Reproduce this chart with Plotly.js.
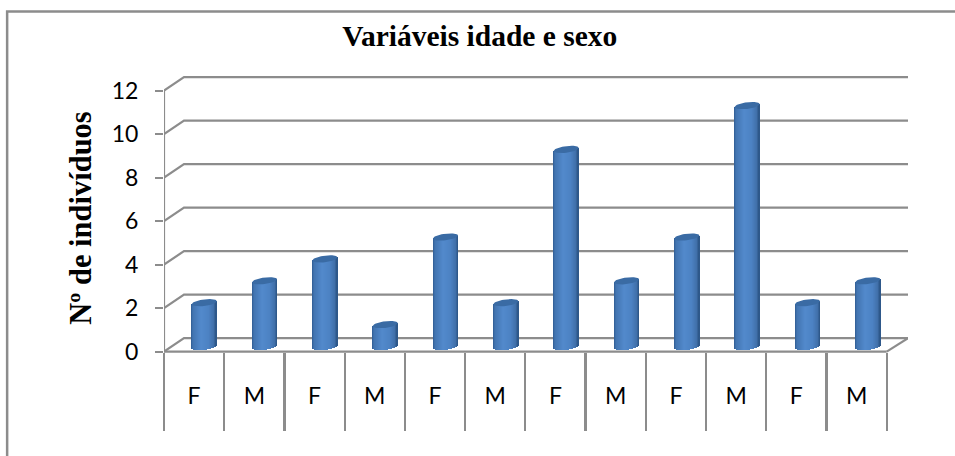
<!DOCTYPE html>
<html><head><meta charset="utf-8">
<script src="https://cdn.plot.ly/plotly-3.0.1.min.js"></script>
<style>html,body{margin:0;padding:0;background:#fff}#c{width:955px;height:456px}</style>
</head><body><div id="c"></div>
<script>
const categories = ['F','M','F','M','F','M','F','M','F','M','F','M'];
const values = [2,3,4,1,5,2,9,3,5,11,2,3];
const yTicks = [0,2,4,6,8,10,12];
const chartTitle = 'Variáveis idade e sexo';
const yTitle = 'Nº de indivíduos';

const W=955,H=456;
const L=164.3,R=908,Y0=351.6,B=362,T=74;
const pxX=60.2,pxY=21.75;           // front plane scale
const depthX=20/pxX, depthY=13.5/pxY; // wall offset
const idx=categories.map((_,i)=>i);
const xMax=(R-L)/pxX, yMax=(Y0-T)/pxY, yMin=-(B-Y0)/pxY;

// cylinder plane axes
const c0=204.5,cStep=60.3,b0=346.5,vStep=21.9;
const x2Range=[(L-c0)/cStep,(R-c0)/cStep];
const y2Range=[-(B-b0)/vStep,(b0-T)/vStep];
const halfW=12.5/cStep, ry=3.3/vStep, tilt=1.5/vStep;

function shade(t){ // t in -1..1
  const stops=[[-1,[47,92,146]],[-0.85,[66,116,176]],[-0.2,[82,137,204]],[0.4,[76,130,195]],[0.8,[65,112,170]],[1,[41,82,130]]];
  for(let k=1;k<stops.length;k++){ if(t<=stops[k][0]){
    const a=stops[k-1],b=stops[k],f=(t-a[0])/(b[0]-a[0]);
    const c=a[1].map((v,j)=>Math.round(v+(b[1][j]-v)*f));
    return `rgb(${c.join(',')})`; } }
  return 'rgb(41,82,130)';
}

const traces=[];
// walls: grid lines
const gx=[],gy=[];
yTicks.forEach(v=>{
  gx.push(0,depthX,xMax,null); gy.push(v,v+depthY,v+depthY,null);
});
gx.push(12,xMax,null); gy.push(0,depthY,null);
gx.push(0,12,null); gy.push(0,0,null);
gx.push(0,0,null); gy.push(0,12,null);
traces.push({type:'scatter',mode:'lines',x:gx,y:gy,xaxis:'x',yaxis:'y',cliponaxis:false,hoverinfo:'skip',showlegend:false,line:{color:'#8c8c8c',width:2.2},connectgaps:false});

// cylinder bodies as narrow bars
const N=25;
for(let s=0;s<N;s++){
  const t=-1+2*(s+0.5)/N;
  const prof=Math.sqrt(Math.max(0,1-t*t));
  traces.push({type:'bar',x:idx.map(i=>i+t*halfW),
    base:values.map(()=>tilt*t-ry*prof),
    y:values.map(v=>v+ry*prof),
    width:(2*halfW/N)*1.5,xaxis:'x2',yaxis:'y2',
    marker:{color:shade(t),line:{width:0}},showlegend:false,hoverinfo:'skip'});
}
// caps
const capX=[],capY=[];
values.forEach((v,i)=>{
  for(let a=0;a<=40;a++){
    const th=a/40*2*Math.PI,ct=Math.cos(th),st=Math.sin(th);
    capX.push(i+halfW*ct); capY.push(v+tilt*ct+ry*st);
  }
  capX.push(null);capY.push(null);
});
traces.push({type:'scatter',mode:'lines',x:capX,y:capY,xaxis:'x2',yaxis:'y2',fill:'toself',fillcolor:'#3a6ba4',line:{width:0,color:'#3a6ba4'},hoverinfo:'skip',showlegend:false,cliponaxis:false});

const layout={
  width:W,height:H,paper_bgcolor:'#fff',plot_bgcolor:'rgba(0,0,0,0)',
  margin:{l:L,r:W-R,t:T,b:H-B,pad:0},showlegend:false,barmode:'overlay',bargap:0,
  font:{family:'Lato, sans-serif',color:'#000'},
  title:{text:'<b>'+chartTitle+'</b>',font:{family:'Liberation Serif, serif',size:29.5,color:'#000'},
    xref:'paper',x:(480-L)/(R-L),xanchor:'center',yref:'container',y:1-36/H,yanchor:'middle'},
  xaxis:{range:[0,xMax],anchor:'free',position:(B-Y0)/(B-T),showgrid:false,zeroline:false,showline:false,
    tickmode:'array',tickvals:idx.map(i=>i+0.5),ticktext:categories,ticks:'',
    tickfont:{family:'Lato, sans-serif',size:23,color:'#000'},ticklabelstandoff:28,
    minor:{ticks:'outside',tickmode:'array',tickvals:idx.concat([12]),ticklen:78,tickwidth:2.2,tickcolor:'#8c8c8c',showgrid:false}},
  yaxis:{range:[yMin,yMax],showgrid:false,zeroline:false,showline:false,
    tickmode:'array',tickvals:yTicks,ticks:'outside',ticklen:8,tickwidth:2.2,tickcolor:'#8c8c8c',
    tickfont:{family:'Lato, sans-serif',size:23,color:'#000'},ticklabelstandoff:12,
    title:{text:'<b>'+yTitle+'</b>',font:{family:'Liberation Serif, serif',size:30.5,color:'#000'},standoff:11}},
  xaxis2:{range:x2Range,overlaying:'x',visible:false,fixedrange:true},
  yaxis2:{range:y2Range,overlaying:'y',visible:false,fixedrange:true},
  shapes:[{type:'path',xref:'paper',yref:'paper',
    path:`M ${(7.5-L)/(R-L)} ${(B-456)/(B-T)} L ${(7.5-L)/(R-L)} ${(B-11.5)/(B-T)} L ${(955-L)/(R-L)} ${(B-11.5)/(B-T)}`,
    line:{color:'#8c8c8c',width:2.5},layer:'below'}]
};
Plotly.newPlot('c',traces,layout,{displayModeBar:false,staticPlot:true});
</script></body></html>
